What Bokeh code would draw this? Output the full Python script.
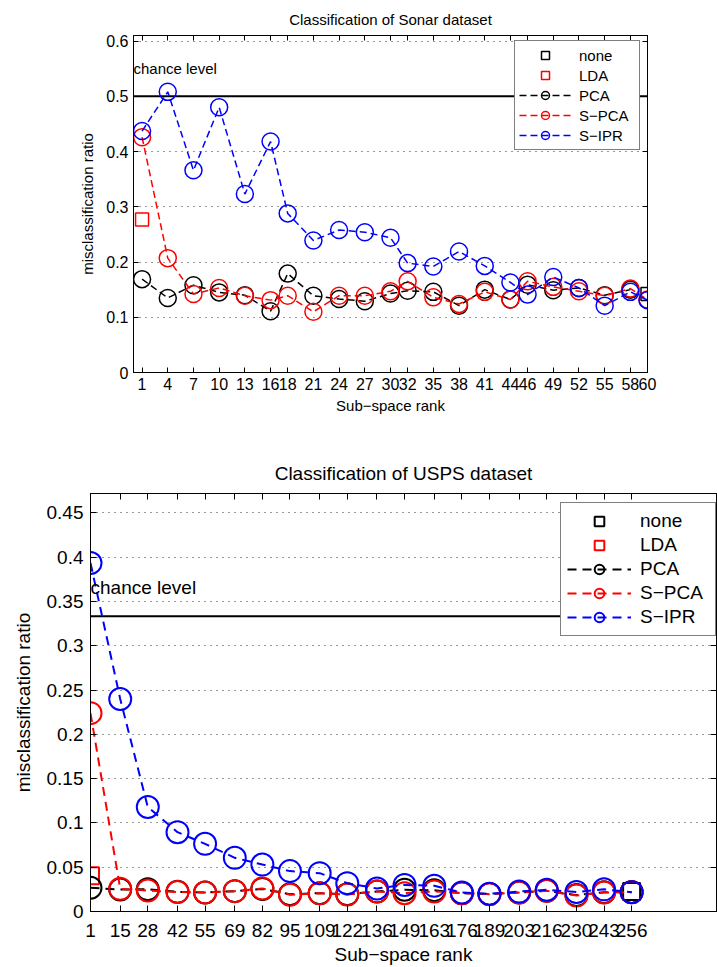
from bokeh.plotting import figure
from bokeh.models import (Range1d, FixedTicker, LinearAxis, Span, Label, Legend, LegendItem,
                          CustomJSTickFormatter)
from bokeh.embed import file_html
from bokeh.resources import INLINE

# ---------------- data: Sonar ----------------
sonar_title = "Classification of Sonar dataset"
sonar_ranks = [1, 4, 7, 10, 13, 16, 18, 21, 24, 27, 30, 32, 35, 38, 41, 44, 46, 49, 52, 55, 58, 60]
sonar_none_rank = [60]
sonar_none = [0.142]
sonar_lda_rank = [1]
sonar_lda = [0.277]
sonar_pca_ranks = [1, 4, 7, 10, 13, 16, 18, 21, 24, 27, 30, 32, 35, 38, 41, 44, 46, 49, 52, 55, 58]
sonar_pca = [0.169, 0.135, 0.158, 0.145, 0.140, 0.111, 0.179, 0.139, 0.133, 0.129, 0.143,
             0.148, 0.146, 0.121, 0.150, 0.132, 0.159, 0.149, 0.153, 0.140, 0.150]
sonar_spca = [0.426, 0.207, 0.142, 0.153, 0.139, 0.131, 0.139, 0.110, 0.139, 0.139, 0.147,
              0.165, 0.136, 0.124, 0.146, 0.132, 0.165, 0.155, 0.147, 0.139, 0.152, 0.132]
sonar_sipr = [0.437, 0.508, 0.366, 0.480, 0.323, 0.418, 0.288, 0.239, 0.258, 0.254, 0.244,
              0.198, 0.192, 0.219, 0.193, 0.163, 0.141, 0.173, 0.153, 0.121, 0.146, 0.131]
sonar_chance = 0.5
sonar_yticks = [0, 0.1, 0.2, 0.3, 0.4, 0.5, 0.6]
sonar_ylabels = ["0", "0.1", "0.2", "0.3", "0.4", "0.5", "0.6"]

# ---------------- data: USPS ----------------
usps_title = "Classification of USPS dataset"
usps_ranks = [1, 15, 28, 42, 55, 69, 82, 95, 109, 122, 136, 149, 163, 176, 189, 203, 216, 230, 243, 256]
usps_none_rank = [256]
usps_none = [0.0226]
usps_lda_rank = [1]
usps_lda = [0.0405]
usps_pca_ranks = usps_ranks
usps_pca = [0.0268, 0.0248, 0.0252, 0.0222, 0.0215, 0.0230, 0.0255, 0.0195, 0.0207, 0.0195,
            0.0226, 0.0245, 0.0240, 0.0207, 0.0198, 0.0215, 0.0233, 0.0185, 0.0218, 0.0220]
usps_spca = [0.224, 0.0256, 0.0237, 0.0220, 0.0215, 0.0230, 0.0260, 0.0190, 0.0205, 0.0192,
             0.0226, 0.0207, 0.0226, 0.0207, 0.0196, 0.0215, 0.0233, 0.0180, 0.0215, 0.0218]
usps_sipr = [0.3935, 0.240, 0.118, 0.0896, 0.0764, 0.0606, 0.0530, 0.0456, 0.0433, 0.0320,
             0.0260, 0.0300, 0.0290, 0.0215, 0.0200, 0.0225, 0.0245, 0.0220, 0.0250, 0.0218]
usps_chance = 1.0 / 3.0
usps_yticks = [0, 0.05, 0.1, 0.15, 0.2, 0.25, 0.3, 0.35, 0.4, 0.45]
usps_ylabels = ["0", "0.05", "0.1", "0.15", "0.2", "0.25", "0.3", "0.35", "0.4", "0.45"]

series_names = ["none", "LDA", "PCA", "S\u2212PCA", "S\u2212IPR"]
xlabel = "Sub\u2212space rank"
ylabel = "misclassification ratio"
chance_text = "chance level"

FONT = "Liberation Sans"


def build(title, ranks, none_x, none_y, lda_x, lda_y, pca_x, pca_y, spca_y, sipr_y,
          chance, yticks, ylabels, cfg):
    p = figure(width=cfg["w"], height=cfg["h"], output_backend="svg", toolbar_location=None,
               x_range=Range1d(*cfg["xr"]), y_range=Range1d(*cfg["yr"]),
               min_border_left=cfg["bl"], min_border_right=cfg["br"],
               min_border_top=cfg["bt"], min_border_bottom=cfg["bb"])
    fs = cfg["fs"]
    p.title.text = title
    p.title.text_font = FONT
    p.title.text_font_size = cfg["tfs"]
    p.title.text_font_style = "normal"
    p.title.text_color = "black"
    p.title.align = "center"
    p.title.standoff = cfg["tst"]
    p.outline_line_color = "black"
    p.outline_line_width = 1
    p.background_fill_color = "white"
    p.border_fill_color = "white"

    xt = FixedTicker(ticks=ranks, minor_ticks=[])
    yt = FixedTicker(ticks=yticks, minor_ticks=[])
    overrides = {t: s for t, s in zip(yticks, ylabels)}

    p.xaxis.ticker = xt
    p.yaxis.ticker = yt
    p.yaxis.major_label_overrides = overrides
    for ax in (p.xaxis[0], p.yaxis[0]):
        ax.major_tick_in = cfg["tick"]
        ax.major_tick_out = 0
        ax.minor_tick_line_color = None
        ax.axis_line_color = "black"
        ax.axis_line_width = 1
        ax.major_tick_line_color = "black"
        ax.major_label_text_font = FONT
        ax.major_label_text_font_size = fs
        ax.major_label_text_color = "black"
        ax.axis_label_text_font = FONT
        ax.axis_label_text_font_size = cfg["lfs"]
        ax.axis_label_text_font_style = "normal"
        ax.axis_label_text_color = "black"
    p.xaxis.axis_label = xlabel
    p.yaxis.axis_label = ylabel
    p.xaxis.major_label_standoff = cfg["xls"]
    p.xaxis.axis_label_standoff = cfg["xas"]
    p.yaxis.major_label_standoff = cfg["yls"]
    p.yaxis.axis_label_standoff = cfg["yas"]

    # mirrored ticks on top and right (no labels)
    blank = CustomJSTickFormatter(code="return ''")
    top = LinearAxis(ticker=xt, formatter=blank, major_tick_in=cfg["tick"], major_tick_out=0,
                     major_label_standoff=0, minor_tick_line_color=None, axis_line_color="black")
    right = LinearAxis(ticker=yt, formatter=blank, major_tick_in=cfg["tick"], major_tick_out=0,
                       major_label_standoff=0, minor_tick_line_color=None, axis_line_color="black")
    p.add_layout(top, "above")
    p.add_layout(right, "right")

    p.xgrid.visible = False
    p.ygrid.ticker = yt
    p.ygrid.grid_line_color = "#333333"
    p.ygrid.grid_line_dash = "1 5"
    p.ygrid.grid_line_width = 1

    p.add_layout(Span(location=chance, dimension="width", line_color="black",
                      line_width=2, level="underlay"))
    p.add_layout(Label(x=cfg["cx"], y=cfg["cy"], text=chance_text, text_font=FONT,
                       text_font_size=cfg["cfs"], text_baseline="middle", text_color="black"))

    lw = cfg["lw"]
    dash = cfg["dash"]
    cs = cfg["cs"]
    ss = cfg["ss"]
    r_none = p.scatter(none_x, none_y, marker="square", size=ss, fill_color=None,
                       line_color="black", line_width=lw)
    r_lda = p.scatter(lda_x, lda_y, marker="square", size=ss, fill_color=None,
                      line_color="red", line_width=lw)
    groups = []
    for xs, ys, col in ((pca_x, pca_y, "black"), (ranks, spca_y, "red"), (ranks, sipr_y, "blue")):
        rl = p.line(xs, ys, line_color=col, line_width=lw, line_dash=dash)
        rs = p.scatter(xs, ys, marker="circle", size=cs, fill_color=None,
                       line_color=col, line_width=lw)
        groups.append([rl, rs])

    items = [LegendItem(label=series_names[0], renderers=[r_none]),
             LegendItem(label=series_names[1], renderers=[r_lda])]
    for name, rr in zip(series_names[2:], groups):
        items.append(LegendItem(label=name, renderers=rr))
    lg = Legend(items=items, location=cfg["lloc"], orientation="vertical",
                glyph_width=cfg["gw"], glyph_height=cfg["gh"], label_height=cfg["gh"],
                label_width=cfg["lwid"], spacing=0, padding=cfg["pad"],
                label_standoff=cfg["lst"], margin=0,
                label_text_font=FONT, label_text_font_size=cfg["lgfs"],
                label_text_color="black",
                border_line_color="black", border_line_width=1,
                background_fill_color="white", background_fill_alpha=1.0)
    p.add_layout(lg)
    return p


top_cfg = dict(w=717, h=438, xr=(0, 60), yr=(0, 0.61), bl=133, br=70, bt=35, bb=66,
               fs="16px", tfs="15px", lfs="15px", tst=15, tick=5,
               xls=5, xas=4, yls=5, yas=7,
               cx=0, cy=0.55, cfs="15px",
               lw=1.5, dash="7 4", cs=17, ss=13,
               lloc=(381, 222), gw=52, gh=20, lwid=56, pad=4, lst=8, lgfs="15px")
bot_cfg = dict(w=717, h=529, xr=(1, 296), yr=(0, 0.472), bl=90, br=1, bt=55, bb=56,
               fs="19px", tfs="19px", lfs="19px", tst=19, tick=6,
               xls=12, xas=4, yls=7, yas=10,
               cx=1, cy=0.366, cfs="19px",
               lw=2, dash="9 6", cs=22, ss=17,
               lloc=(470, 275), gw=64, gh=24, lwid=69, pad=6, lst=9, lgfs="19px")

p1 = build(sonar_title, sonar_ranks, sonar_none_rank, sonar_none, sonar_lda_rank, sonar_lda,
           sonar_pca_ranks, sonar_pca, sonar_spca, sonar_sipr, sonar_chance,
           sonar_yticks, sonar_ylabels, top_cfg)
p2 = build(usps_title, usps_ranks, usps_none_rank, usps_none, usps_lda_rank, usps_lda,
           usps_pca_ranks, usps_pca, usps_spca, usps_sipr, usps_chance,
           usps_yticks, usps_ylabels, bot_cfg)

open("out.html", "w").write(file_html([p1, p2], INLINE))
